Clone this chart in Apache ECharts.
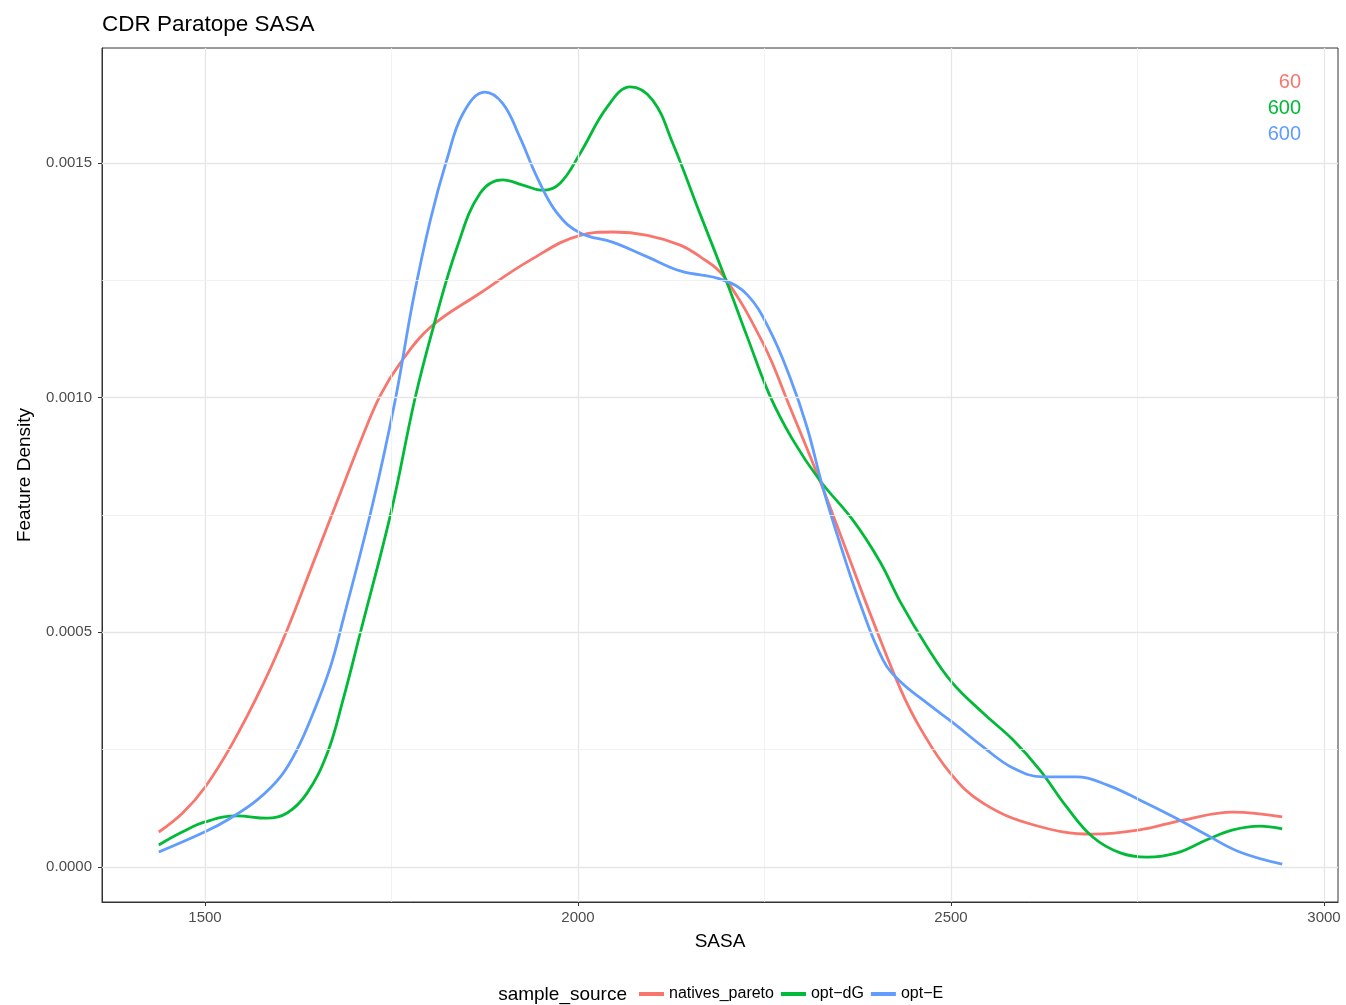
<!DOCTYPE html>
<html>
<head>
<meta charset="utf-8">
<title>CDR Paratope SASA</title>
<script src="https://cdn.jsdelivr.net/npm/echarts@6/dist/echarts.min.js"></script>
<style>
  html, body { margin: 0; padding: 0; background: #fff; }
  #chart { width: 1346px; height: 1005px; }
</style>
</head>
<body>
<div id="chart"></div>
<script>
// Density estimates of paratope SASA for each sample source
const seriesNames = ['natives_pareto', 'opt\u2212dG', 'opt\u2212E'];
const seriesColors = ['#F8766D', '#00BA38', '#619CFF'];
const sampleCounts = ['60', '600', '600'];

const nativesX = [1438, 1470, 1500, 1537, 1578, 1610, 1645, 1680, 1710, 1735, 1761, 1802, 1869, 1936, 2003, 2047, 2093, 2137, 2164, 2194, 2248, 2284, 2324, 2361, 2395, 2432, 2458, 2499, 2543, 2610, 2690, 2753, 2811, 2878, 2944];
const nativesY = [0.0000746, 0.000115, 0.000170, 0.000264, 0.000390, 0.000505, 0.000648, 0.000791, 0.000913, 0.001005, 0.001072, 0.001150, 0.001223, 0.001293, 0.001346, 0.001353, 0.001346, 0.001325, 0.001300, 0.001261, 0.001116, 0.000980, 0.000824, 0.000669, 0.000526, 0.000380, 0.000298, 0.000200, 0.000136, 0.000090, 0.000070, 0.000079, 0.000100, 0.000117, 0.000107];

const optDGX = [1438, 1470, 1500, 1543, 1583, 1610, 1637, 1664, 1685, 1708, 1750, 1781, 1806, 1838, 1869, 1899, 1926, 1953, 1976, 2003, 2039, 2070, 2100, 2127, 2164, 2200, 2227, 2257, 2288, 2324, 2369, 2405, 2432, 2468, 2501, 2543, 2583, 2619, 2655, 2690, 2727, 2763, 2803, 2843, 2878, 2914, 2944];
const optDGY = [0.000047, 0.000075, 0.000096, 0.000109, 0.000104, 0.000115, 0.000158, 0.000243, 0.000356, 0.000498, 0.000760, 0.000995, 0.001150, 0.001321, 0.001436, 0.001464, 0.001453, 0.001442, 0.001457, 0.001521, 0.001619, 0.001662, 0.001634, 0.001542, 0.001390, 0.001244, 0.001129, 0.001005, 0.000910, 0.000824, 0.000738, 0.000650, 0.000565, 0.000469, 0.000394, 0.000328, 0.000271, 0.000207, 0.000128, 0.000064, 0.000030, 0.000021, 0.000030, 0.000058, 0.000079, 0.000087, 0.000081];

const optEX = [1438, 1500, 1534, 1570, 1601, 1623, 1645, 1668, 1685, 1725, 1755, 1779, 1802, 1824, 1846, 1875, 1899, 1922, 1945, 1972, 2003, 2047, 2093, 2137, 2194, 2227, 2257, 2284, 2307, 2328, 2351, 2378, 2409, 2432, 2468, 2503, 2543, 2583, 2623, 2669, 2709, 2753, 2798, 2843, 2887, 2944];
const optEY = [0.000032, 0.000075, 0.000104, 0.000143, 0.000192, 0.000249, 0.000328, 0.000426, 0.000526, 0.000775, 0.000995, 0.001208, 0.001378, 0.001506, 0.001606, 0.001651, 0.001627, 0.001555, 0.001470, 0.001393, 0.001351, 0.001331, 0.001300, 0.001270, 0.001251, 0.001219, 0.001144, 0.001044, 0.000937, 0.000810, 0.000690, 0.000562, 0.000441, 0.000395, 0.000349, 0.000307, 0.000256, 0.000211, 0.000192, 0.000192, 0.000175, 0.000143, 0.000107, 0.000068, 0.000032, 0.000006];

// Axis ticks and grid positions
const xTicks = [1500, 2000, 2500, 3000];
const xMinor = [1750, 2250, 2750];
const yTicks = [0, 0.0005, 0.0010, 0.0015];
const yMinor = [0.00025, 0.00075, 0.00125];

const xs = [nativesX, optDGX, optEX];
const ys = [nativesY, optDGY, optEY];

const FONT = "'Liberation Sans', Arial, Helvetica, sans-serif";

const chart = echarts.init(document.getElementById('chart'), null, { renderer: 'canvas' });

const gridLines = [];
xTicks.forEach(v => gridLines.push({ xAxis: v, lineStyle: { color: '#e6e6e6', width: 1.3 } }));
xMinor.forEach(v => gridLines.push({ xAxis: v, lineStyle: { color: '#efefef', width: 0.8 } }));
yTicks.forEach(v => gridLines.push({ yAxis: v, lineStyle: { color: '#e6e6e6', width: 1.3 } }));
yMinor.forEach(v => gridLines.push({ yAxis: v, lineStyle: { color: '#efefef', width: 0.8 } }));

const series = [{
  name: '__grid',
  type: 'line',
  data: [],
  silent: true,
  z: 1,
  markLine: {
    silent: true,
    precision: 10,
    symbol: ['none', 'none'],
    label: { show: false },
    animation: false,
    lineStyle: { type: 'solid' },
    data: gridLines
  }
}];

seriesNames.forEach((name, i) => {
  series.push({
    name: name,
    type: 'line',
    data: xs[i].map((x, j) => [x, ys[i][j]]),
    showSymbol: false,
    smooth: 0.4,
    z: 3,
    lineStyle: { color: seriesColors[i], width: 2.8 },
    itemStyle: { color: seriesColors[i] }
  });
});

const option = {
  animation: false,
  backgroundColor: '#ffffff',
  title: {
    text: 'CDR Paratope SASA',
    left: 102,
    top: 11,
    padding: 0,
    textStyle: { fontFamily: FONT, fontSize: 22.5, fontWeight: 'normal', color: '#000', lineHeight: 27 }
  },
  grid: {
    left: 102, top: 48, right: 8, bottom: 103,
    show: true,
    borderColor: '#333333',
    borderWidth: 1,
    backgroundColor: '#ffffff'
  },
  xAxis: {
    type: 'value',
    min: 1361.9,
    max: 3018.8,
    name: 'SASA',
    nameLocation: 'middle',
    nameGap: 30,
    nameTextStyle: { fontFamily: FONT, fontSize: 19, color: '#000' },
    axisLine: { show: true, onZero: false, lineStyle: { color: '#333333', width: 1 } },
    axisTick: { show: true, length: 4, customValues: xTicks, lineStyle: { color: '#333333' } },
    axisLabel: {
      customValues: xTicks, margin: 8, fontFamily: FONT, fontSize: 15, color: '#4d4d4d',
      formatter: v => String(Math.round(v))
    },
    splitLine: { show: false }
  },
  yAxis: {
    type: 'value',
    min: -0.00007457,
    max: 0.00174503,
    name: 'Feature Density',
    nameLocation: 'middle',
    nameGap: 68,
    nameTextStyle: { fontFamily: FONT, fontSize: 19, color: '#000' },
    axisLine: { show: true, onZero: false, lineStyle: { color: '#333333', width: 1 } },
    axisTick: { show: true, length: 4, customValues: yTicks, lineStyle: { color: '#333333' } },
    axisLabel: {
      customValues: yTicks,
      margin: 10,
      fontFamily: FONT, fontSize: 15, color: '#4d4d4d',
      formatter: v => Number(v).toFixed(4)
    },
    splitLine: { show: false }
  },
  legend: {
    data: seriesNames,
    left: 639,
    top: 986,
    orient: 'horizontal',
    icon: 'rect',
    itemWidth: 25,
    itemHeight: 4,
    itemGap: 7,
    padding: 0,
    textStyle: { fontFamily: FONT, fontSize: 16, color: '#000' }
  },
  graphic: [
    {
      type: 'text', x: 627, y: 995,
      style: { text: 'sample_source', fontFamily: FONT, fontSize: 19, fill: '#000', textAlign: 'right', textVerticalAlign: 'middle' }
    }
  ].concat(sampleCounts.map((t, i) => ({
    type: 'text', x: 1301, y: 82 + i * 26, z: 10,
    style: { text: t, fontFamily: FONT, fontSize: 20, fill: seriesColors[i], textAlign: 'right', textVerticalAlign: 'middle' }
  }))),
  series: series
};

chart.setOption(option);
</script>
</body>
</html>
